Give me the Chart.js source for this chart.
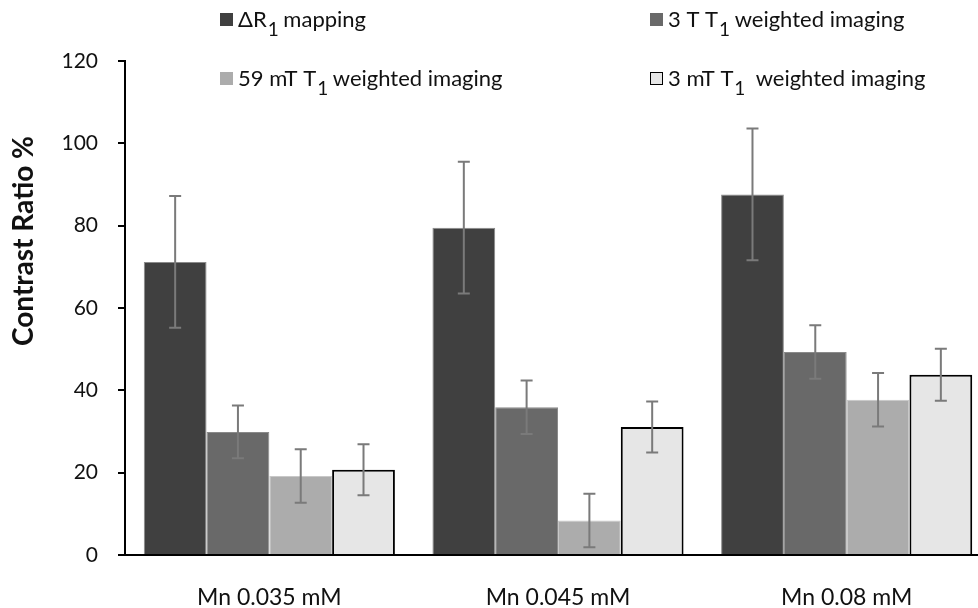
<!DOCTYPE html>
<html>
<head>
<meta charset="utf-8">
<script src="https://cdn.jsdelivr.net/npm/chart.js@4.4.1/dist/chart.umd.min.js"></script>
<style>
  html, body { margin: 0; padding: 0; background: #fff; overflow: hidden; }
  #wrap { position: relative; width: 992px; height: 608px; }
</style>
</head>
<body>
<div id="wrap"><canvas id="myChart"></canvas></div>
<script>
'use strict';

// Datos
const categories = ['Mn 0.035 mM', 'Mn 0.045 mM', 'Mn 0.08 mM'];
const seriesNames = ['ΔR_1 mapping', '3 T T_1 weighted imaging', '59 mT T_1 weighted imaging', '3 mT T_1  weighted imaging'];
const deltaR1 = [71.2, 79.5, 87.6];
const t1At3T = [29.9, 35.9, 49.3];
const t1At59mT = [19.2, 8.4, 37.7];
const t1At3mT = [20.7, 31.1, 43.8];
const errDeltaR1 = [16.0, 16.0, 16.0];
const err3T = [6.4, 6.5, 6.5];
const err59mT = [6.5, 6.5, 6.5];
const err3mT = [6.2, 6.2, 6.3];
const yTicks = [0, 20, 40, 60, 80, 100, 120];

const canvas = document.getElementById('myChart');
const FONT = 'Lato, "Open Sans", sans-serif';
const fills = ['#404040', '#696969', '#acacac', '#e6e6e6'];
const borders = ['#8a8a8a', '#8a8a8a', '#c8c8c8', '#000000'];
const errors = [errDeltaR1, err3T, err59mT, err3mT];

// Barras de error
const errorBars = {
  id: 'errorBars',
  afterDatasetsDraw(chart) {
    const ctx = chart.ctx;
    const y = chart.scales.y;
    ctx.save();
    ctx.strokeStyle = '#7a7a7a';
    ctx.lineWidth = 2;
    chart.data.datasets.forEach((ds, i) => {
      const meta = chart.getDatasetMeta(i);
      meta.data.forEach((bar, j) => {
        const top = y.getPixelForValue(ds.data[j] + errors[i][j]);
        const bot = y.getPixelForValue(ds.data[j] - errors[i][j]);
        ctx.beginPath();
        ctx.moveTo(bar.x, top);
        ctx.lineTo(bar.x, bot);
        ctx.moveTo(bar.x - 6, top);
        ctx.lineTo(bar.x + 6, top);
        ctx.moveTo(bar.x - 6, bot);
        ctx.lineTo(bar.x + 6, bot);
        ctx.stroke();
      });
    });
    ctx.restore();
  },
};

// Texto con subíndice: 'T_1' -> T con 1 abajo
function drawSubText(ctx, text, x, y, size) {
  const parts = text.split(/_(\d)/);
  parts.forEach((p, k) => {
    if (k % 2 === 1) {
      ctx.font = `${size - 3}px ${FONT}`;
      ctx.fillText(p, x + 1, y + 10);
    } else {
      ctx.font = `${size}px ${FONT}`;
      ctx.fillText(p, x, y);
    }
    x += ctx.measureText(p).width;
  });
}

// Leyenda y título del eje Y
const customText = {
  id: 'customText',
  afterDraw(chart) {
    const ctx = chart.ctx;
    const pos = [[220, 20], [650, 20], [220, 79], [650, 79]];
    ctx.save();
    ctx.textBaseline = 'middle';
    chart.data.datasets.forEach((ds, i) => {
      const [bx, by] = pos[i];
      ctx.fillStyle = fills[i];
      ctx.fillRect(bx, by - 7, 13, 13);
      if (i === 3) {
        ctx.strokeStyle = '#000';
        ctx.lineWidth = 1;
        ctx.strokeRect(bx + 0.5, by - 6.5, 12, 12);
      }
      ctx.fillStyle = '#111';
      drawSubText(ctx, seriesNames[i], bx + 18, by, 22);
    });

    ctx.translate(24, 241);
    ctx.rotate(-Math.PI / 2);
    ctx.textAlign = 'center';
    ctx.font = `bold 28px ${FONT}`;
    ctx.fillText('Contrast Ratio %', 0, 0);
    ctx.restore();
  },
};

new Chart(canvas, {
  type: 'bar',
  data: {
    labels: categories,
    datasets: [deltaR1, t1At3T, t1At59mT, t1At3mT].map((d, i) => ({
      label: seriesNames[i].replace(/_/g, ''),
      data: d,
      backgroundColor: fills[i],
      borderColor: borders[i],
      borderWidth: i === 3 ? 2 : 1,
      categoryPercentage: 0.87,
      barPercentage: 1,
    })),
  },
  options: {
    responsive: true,
    maintainAspectRatio: false,
    animation: false,
    layout: { padding: { top: 61, right: 1, left: 0, bottom: 0 } },
    plugins: {
      legend: { display: false },
      tooltip: { enabled: false },
    },
    scales: {
      x: {
        afterFit: s => { s.height = 53; },
        grid: { display: false },
        border: { display: true, color: '#000', width: 2 },
        ticks: { color: '#111', font: { family: FONT, size: 23 }, padding: 21 },
      },
      y: {
        min: 0,
        max: 120,
        afterFit: s => { s.width = 125; },
        afterBuildTicks: s => { s.ticks = yTicks.map(v => ({ value: v })); },
        grid: { drawOnChartArea: false, drawTicks: true, tickLength: 7, color: '#000', lineWidth: 2 },
        border: { display: true, color: '#000', width: 2 },
        ticks: { color: '#111', font: { family: FONT, size: 21 }, padding: 20 },
      },
    },
  },
  plugins: [errorBars, customText],
});
</script>
</body>
</html>
